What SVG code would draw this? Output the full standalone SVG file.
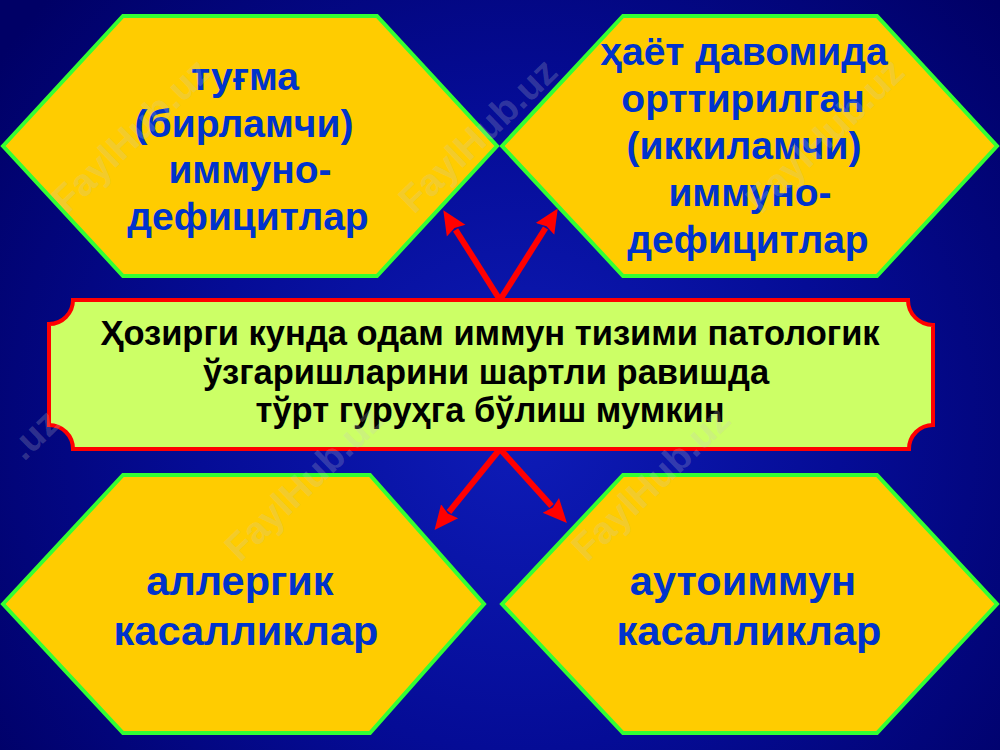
<svg xmlns="http://www.w3.org/2000/svg" width="1000" height="750" viewBox="0 0 1000 750">
  <defs>
    <radialGradient id="bg" cx="520" cy="430" r="640" gradientUnits="userSpaceOnUse">
      <stop offset="0" stop-color="#0e1cb8"/>
      <stop offset="0.5" stop-color="#050c96"/>
      <stop offset="1" stop-color="#000066"/>
    </radialGradient>
    <marker id="ah" markerUnits="userSpaceOnUse" markerWidth="24" markerHeight="24" viewBox="0 0 24 24" refX="1" refY="12" orient="auto">
      <path d="M0,1 L24,12 L0,23 L3,12 z" fill="#ff0000"/>
    </marker>
    <style>
      .hex { fill: #ffcc00; stroke: #33ff33; stroke-width: 4; stroke-linejoin: miter; }
      .plaque { fill: #ccff66; stroke: #ff0000; stroke-width: 4; }
      .ht { font-family: "Liberation Sans", Arial, sans-serif; font-weight: bold; font-size: 39px; fill: #0033cc; text-anchor: middle; }
      .hb { font-size: 41.5px; }
      .ct { font-family: "Liberation Sans", Arial, sans-serif; font-weight: bold; font-size: 34.5px; fill: #000000; text-anchor: middle; }
      .conn { stroke: #ff0000; stroke-width: 6; fill: none; marker-end: url(#ah); }
      .wm { font-family: "Liberation Sans", Arial, sans-serif; font-weight: bold; font-size: 38px; fill: #c8c8c8; fill-opacity: 0.24; }
    </style>
  </defs>

  <rect x="0" y="0" width="1000" height="750" fill="url(#bg)"/>

  <g id="node-tl">
    <polygon class="hex" points="3,146 123,16 377,16 497,146 377,276 123,276"/>
    <text class="ht" x="245" y="90">туғма</text>
    <text class="ht" x="244" y="137">(бирламчи)</text>
    <text class="ht" x="250" y="183">иммуно-</text>
    <text class="ht" x="248" y="230">дефицитлар</text>
  </g>

  <g id="node-tr">
    <polygon class="hex" points="502,146 623,16 877,16 997,146 877,276 623,276"/>
    <text class="ht" x="744" y="65">ҳаёт давомида</text>
    <text class="ht" x="743" y="112">орттирилган</text>
    <text class="ht" x="744" y="159">(иккиламчи)</text>
    <text class="ht" x="750" y="206">иммуно-</text>
    <text class="ht" x="748" y="253">дефицитлар</text>
  </g>

  <g id="node-bl">
    <polygon class="hex" points="3,604 123,475 370,475 484,604 370,733 123,733"/>
    <text class="ht hb" x="240" y="595">аллергик</text>
    <text class="ht hb" x="246" y="645">касалликлар</text>
  </g>

  <g id="node-br">
    <polygon class="hex" points="502,604 623,475 877,475 997,604 877,733 623,733"/>
    <text class="ht hb" x="743" y="595">аутоиммун</text>
    <text class="ht hb" x="749" y="645">касалликлар</text>
  </g>

  <g id="connectors">
    <line class="conn" x1="500" y1="300" x2="455.6" y2="229.8"/>
    <line class="conn" x1="500" y1="300" x2="545.5" y2="228"/>
    <line class="conn" x1="500" y1="449" x2="449" y2="512"/>
    <line class="conn" x1="500" y1="449" x2="551.5" y2="506"/>
  </g>

  <g id="node-center">
    <path class="plaque" d="M73,300 H908 A25,25 0 0 0 933,325 V425 A24,24 0 0 0 909,449 H73 A24,24 0 0 0 49,425 V324 A24,24 0 0 0 73,300 Z"/>
    <text class="ct" x="490" y="345">Ҳозирги кунда одам иммун тизими патологик</text>
    <text class="ct" x="486" y="384">ўзгаришларини шартли равишда</text>
    <text class="ct" x="490" y="422">тўрт гуруҳга бўлиш мумкин</text>
  </g>

  <g id="watermarks">
    <text class="wm" transform="translate(67,215) rotate(-44)">FaylHub.uz</text>
    <text class="wm" transform="translate(414,215) rotate(-44)">FaylHub.uz</text>
    <text class="wm" transform="translate(761,215) rotate(-44)">FaylHub.uz</text>
    <text class="wm" transform="translate(24,462) rotate(-44)">.uz</text>
    <text class="wm" transform="translate(240,563) rotate(-44)">FaylHub.uz</text>
    <text class="wm" transform="translate(587,563) rotate(-44)">FaylHub.uz</text>
  </g>
</svg>
